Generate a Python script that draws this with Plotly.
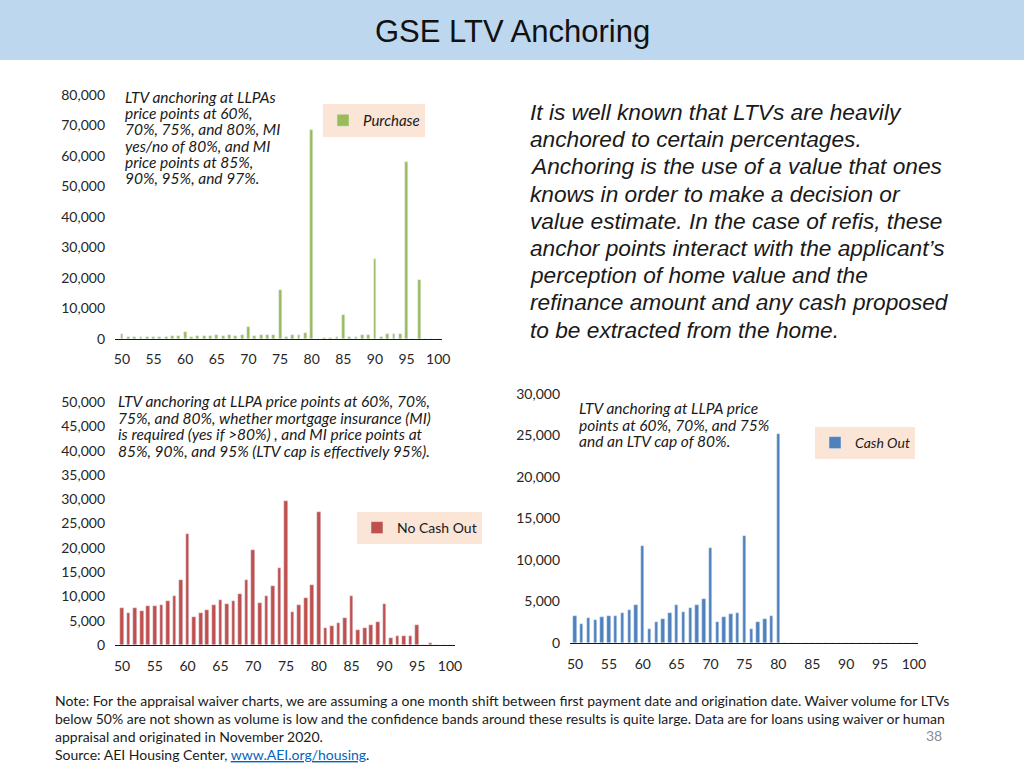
import plotly.graph_objects as go

# LTV buckets shown on the x axes (50% .. 100%)
ltv = list(range(50, 101))

# loan counts
purchase = [1500, 600, 700, 700, 750, 750, 800, 800, 850, 900,
            2200, 600, 900, 900, 950, 1200, 1000, 1200, 1100, 1300,
            3900, 1000, 1200, 1400, 1300, 16000, 700, 1200, 1400, 1900,
            68500, 100, 200, 400, 600, 8000, 600, 800, 1200, 1200,
            26200, 800, 1600, 1600, 1600, 58000, 0, 19300, 0, 0, 0]

no_cash_out = [7700, 6500, 7700, 7000, 7950, 8000, 8200, 9100, 10100, 13400,
               22800, 5800, 6600, 7100, 8300, 9300, 8350, 9000, 10550, 13400,
               19450, 8700, 10100, 12100, 15900, 29650, 6700, 8200, 9700, 12300,
               27400, 3400, 4000, 4600, 5600, 10100, 3100, 3600, 4100, 4800,
               8350, 1500, 1900, 1950, 1850, 4200, 0, 350, 0, 0, 0]

cash_out = [3250, 2250, 3050, 2730, 3100, 3200, 3250, 3570, 3980, 4620,
            11650, 1730, 2530, 2890, 3650, 4580, 3780, 4260, 4620, 5340,
            11490, 2570, 3130, 3490, 3650, 12930, 1690, 2570, 2850, 3210,
            25140] + [0] * 20

xticks = list(range(50, 101, 5))

W, H = 1024, 768
def px(x):
    return x / W
def py(y):
    return 1 - y / H

CAL = "Lato, Carlito, sans-serif"
ARIAL = "Liberation Sans, Arial, sans-serif"
TICK = dict(family=CAL, size=14, color="#262626")

fig = go.Figure()
fig.add_trace(go.Bar(x=ltv, y=purchase, name="<i>Purchase</i>", marker_color="#9BBB59",
                     width=0.45, xaxis="x", yaxis="y", legend="legend"))
fig.add_trace(go.Bar(x=ltv, y=no_cash_out, name="No Cash Out", marker_color="#C0504D",
                     width=0.55, xaxis="x2", yaxis="y2", legend="legend2"))
fig.add_trace(go.Bar(x=ltv, y=cash_out, name="<i>Cash Out</i>", marker_color="#4F81BD",
                     width=0.5, xaxis="x3", yaxis="y3", legend="legend3"))

def xax(x0, x1, rng, anchor, standoff):
    return dict(domain=[px(x0), px(x1)], range=rng, anchor=anchor, tickvals=xticks,
                showline=True, linecolor="#1a1a1a", linewidth=1.3, showgrid=False,
                zeroline=False, ticks="", tickfont=TICK, ticklabelstandoff=standoff,
                automargin=False)

def yax(y0, y1, rng, dt, anchor):
    return dict(domain=[py(y0), py(y1)], range=rng, anchor=anchor, dtick=dt,
                tickformat=",d", showline=False, showgrid=False, zeroline=False,
                ticks="", tickfont=TICK, ticklabelstandoff=9, automargin=False)

legend_style = dict(bgcolor="#FBE5D6", borderwidth=0, xanchor="left", yanchor="top",
                    itemwidth=30, tracegroupgap=0)

fig.update_layout(
    width=W, height=H, margin=dict(l=0, r=0, t=0, b=0, autoexpand=False),
    paper_bgcolor="white", plot_bgcolor="rgba(0,0,0,0)",
    showlegend=True, bargap=0,
    xaxis=xax(115, 442, [48.9, 100.6], "y", 7),
    yaxis=yax(339, 95, [0, 80000], 10000, "x"),
    xaxis2=xax(115, 455, [48.93, 100.76], "y2", 8),
    yaxis2=yax(645, 402, [0, 50000], 5000, "x2"),
    xaxis3=xax(570, 918, [49.26, 100.6], "y3", 8),
    yaxis3=yax(643, 394, [0, 30000], 5000, "x3"),
    legend=dict(x=px(323), y=py(104), font=dict(family=CAL, size=15, color="#1a1a1a"),
                **legend_style),
    legend2=dict(x=px(357), y=py(512), font=dict(family=CAL, size=14, color="#1a1a1a"),
                 **legend_style),
    legend3=dict(x=px(815), y=py(427), font=dict(family=CAL, size=14, color="#1a1a1a"),
                 **legend_style),
)

# header band
fig.add_shape(type="rect", xref="paper", yref="paper", x0=0, x1=1, y0=py(60), y1=1,
              fillcolor="#BDD7EE", line_width=0, layer="below")
fig.add_annotation(text="GSE LTV Anchoring", xref="paper", yref="paper", x=0.5, y=py(32),
                   xanchor="center", yanchor="middle", showarrow=False,
                   font=dict(family=ARIAL, size=31, color="#111111"))

def note(text, x, y, size, family=CAL, color="#1a1a1a", italic=True):
    fig.add_annotation(text=text, xref="paper", yref="paper", x=px(x), y=py(y),
                       xanchor="left", yanchor="middle", align="left", showarrow=False,
                       font=dict(family=family, size=size, color=color,
                                 style="italic" if italic else "normal"))

# in-chart captions
for i, line in enumerate(["LTV anchoring at LLPAs", "price points at 60%,",
                          "70%, 75%, and 80%, MI", "yes/no of 80%, and MI",
                          "price points at 85%,", "90%, 95%, and 97%."]):
    note(line, 123, 97 + i * 16.2, 15.5)

for i, line in enumerate(["LTV anchoring at LLPA price points at 60%, 70%,",
                          "75%, and 80%, whether mortgage insurance (MI)",
                          "is required (yes if >80%) , and MI price points at",
                          "85%, 90%, and 95% (LTV cap is effectively 95%)."]):
    note(line, 116, 401 + i * 16.5, 15.5)

for i, line in enumerate(["LTV anchoring at LLPA price", "points at 60%, 70%, and 75%",
                          "and an LTV cap of 80%."]):
    note(line, 577, 408 + i * 16.5, 15.5)

# side text
for i, line in enumerate(["It is well known that LTVs are heavily",
                          "anchored to certain percentages.",
                          "Anchoring is the use of a value that ones",
                          "knows in order to make a decision or",
                          "value estimate. In the case of refis, these",
                          "anchor points interact with the applicant\u2019s",
                          "perception of home value and the",
                          "refinance amount and any cash proposed",
                          "to be extracted from the home."]):
    note(line, 528, 112 + i * 27.2, 22.7, family=ARIAL)

# footer
foot = ["Note: For the appraisal waiver charts, we are assuming a one month shift between first payment date and origination date. Waiver volume for LTVs",
        "below 50% are not shown as volume is low and the confidence bands around these results is quite large. Data are for loans using waiver or human",
        "appraisal and originated in November 2020.",
        "Source: AEI Housing Center, <span style='color:#0563C1'><u>www.AEI.org/housing</u></span>."]
for i, line in enumerate(foot):
    note(line, 53, 700 + i * 18, 14, italic=False)

fig.add_annotation(text="38", xref="paper", yref="paper", x=px(944), y=py(735),
                   xanchor="right", yanchor="middle", showarrow=False,
                   font=dict(family=CAL, size=14, color="#8C8C8C"))

# drop the default page margin so the 1024x768 figure fills the window
fig.write_html("out.html", config={"displayModeBar": False},
               post_script="document.body.style.margin='0';")
